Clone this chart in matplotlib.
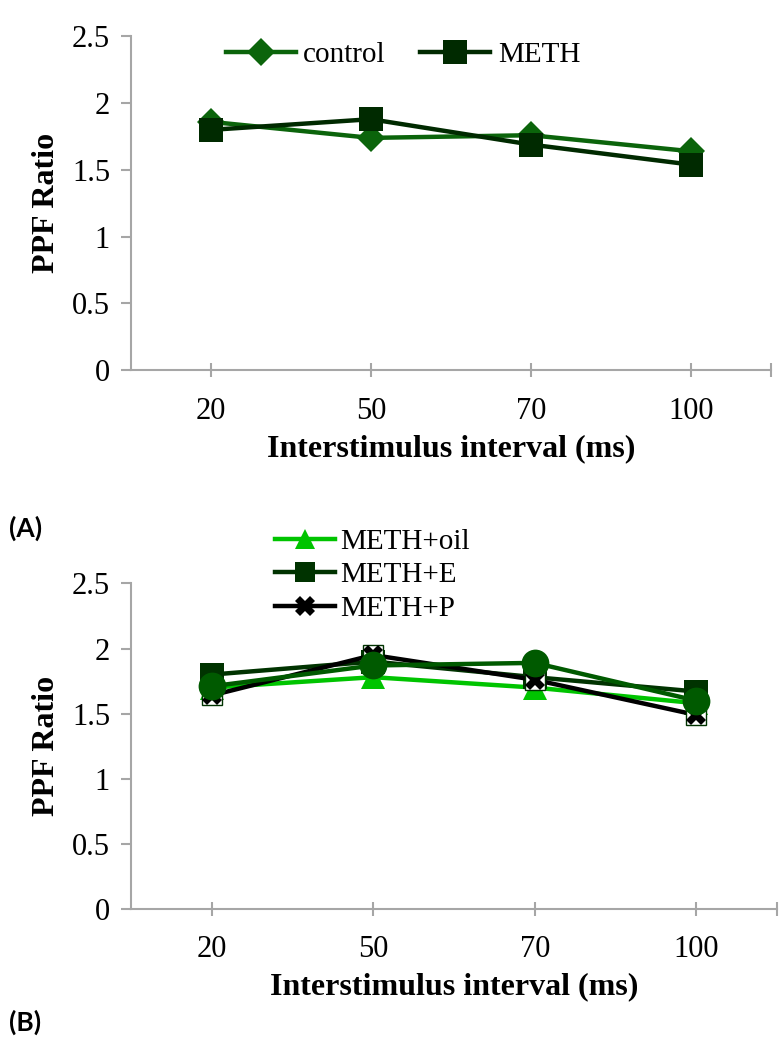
import numpy as np
import matplotlib
matplotlib.use("Agg")
import matplotlib.pyplot as plt
from matplotlib.lines import Line2D

plt.rcParams['font.family'] = ['Liberation Serif', 'DejaVu Serif']

# Data
intervals = ['20', '50', '70', '100']
control = [1.86, 1.74, 1.76, 1.64]
meth = [1.80, 1.88, 1.69, 1.54]

meth_oil = [1.70, 1.78, 1.70, 1.58]
meth_e = [1.80, 1.90, 1.78, 1.67]
meth_p = [1.64, 1.95, 1.76, 1.49]
meth_other = [1.71, 1.87, 1.89, 1.60]

yticks = [0, 0.5, 1, 1.5, 2, 2.5]
ytick_labels = ['0', '0.5', '1', '1.5', '2', '2.5']

axis_grey = '#a6a6a6'
fs = 22
lw = 3.2

fig = plt.figure(figsize=(7.84, 10.4), dpi=100)
ax1 = fig.add_axes([0.167, 0.644, 0.816, 0.321])
ax2 = fig.add_axes([0.167, 0.126, 0.824, 0.313])


def style_axis(ax):
    x = np.arange(len(intervals))
    ax.set_xlim(-0.5, len(intervals) - 0.5)
    ax.set_ylim(0, 2.5)
    ax.set_xticks(list(x) + [len(intervals) - 0.5])
    ax.set_xticklabels(intervals + [''])
    ax.set_yticks(yticks)
    ax.set_yticklabels(ytick_labels)
    for s in ['top', 'right']:
        ax.spines[s].set_visible(False)
    for s in ['left', 'bottom']:
        ax.spines[s].set_color(axis_grey)
        ax.spines[s].set_linewidth(1.5)
    ax.tick_params(axis='y', direction='out', length=7, width=1.5,
                   color=axis_grey, labelsize=fs, pad=8)
    ax.tick_params(axis='x', direction='inout', length=10, width=1.5,
                   color=axis_grey, labelsize=fs, pad=14)
    ax.set_ylabel('PPF Ratio', fontsize=23, fontweight='bold', labelpad=8)
    ax.set_xlabel('Interstimulus interval (ms)', fontsize=23, fontweight='bold', labelpad=6)
    return x


# Panel A
x = style_axis(ax1)
ax1.plot(x, control, color='#0b640b', lw=lw, marker='D', ms=14,
         markeredgewidth=0, label='control', zorder=3)
ax1.plot(x, meth, color='#002a00', lw=lw, marker='s', ms=17,
         markeredgewidth=0, label='METH', zorder=4)
ax1.legend(loc='upper center', bbox_to_anchor=(0.425, 1.062), ncol=2, frameon=False,
           fontsize=21, handlelength=2.4, handletextpad=0.25, columnspacing=1.2)

# Panel B
x = style_axis(ax2)
ax2.plot(x, meth_oil, color='#00c400', lw=lw, marker='^', ms=17,
         markeredgewidth=0, zorder=3)
ax2.plot(x, meth_e, color='#003300', lw=lw, marker='s', ms=17,
         markeredgewidth=0, zorder=4)
ax2.plot(x, meth_p, color='black', lw=lw, zorder=5)
ax2.plot(x, meth_p, ls='none', marker='s', ms=15, color='white',
         markeredgecolor='#003300', markeredgewidth=1, zorder=5)
ax2.plot(x, meth_p, ls='none', marker='X', ms=14, color='black',
         markeredgewidth=0, zorder=5)
ax2.plot(x, meth_other, color='#005a00', lw=lw, marker='o', ms=20,
         markeredgewidth=0, zorder=6)

handles = [
    Line2D([], [], color='#00c400', lw=lw, marker='^', ms=14, markeredgewidth=0),
    Line2D([], [], color='#003300', lw=lw, marker='s', ms=14, markeredgewidth=0),
    Line2D([], [], color='black', lw=lw, marker='X', ms=14, markeredgewidth=0),
]
ax2.legend(handles, ['METH+oil', 'METH+E', 'METH+P'], loc='upper left',
           bbox_to_anchor=(0.182, 1.25), frameon=False, fontsize=21,
           handlelength=2.05, handletextpad=0.2, labelspacing=0.25)

# Panel letters
fig.text(0.012, 1 - 528 / 1040, '(A)', fontsize=19, fontweight='bold', va='center',
         family=['Lato', 'DejaVu Sans'])
fig.text(0.012, 1 - 1022 / 1040, '(B)', fontsize=19, fontweight='bold', va='center',
         family=['Lato', 'DejaVu Sans'])

fig.savefig('out.png', dpi=100)
